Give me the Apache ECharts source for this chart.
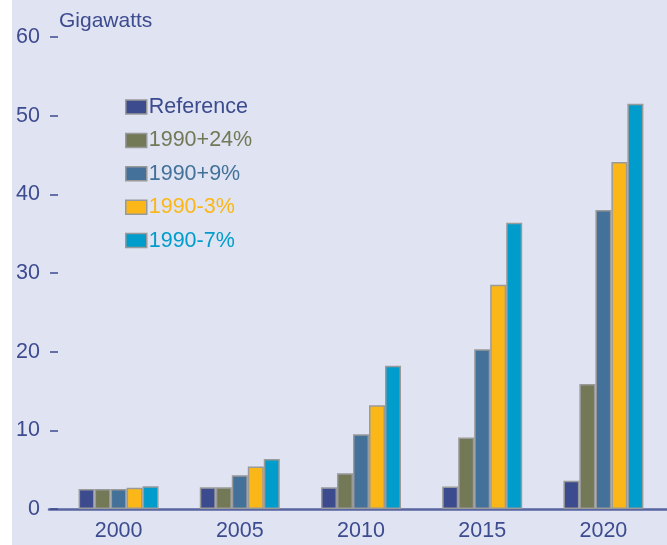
<!DOCTYPE html>
<html>
<head>
<meta charset="utf-8">
<script src="https://cdn.jsdelivr.net/npm/echarts@6/dist/echarts.min.js"></script>
<style>
  html, body { margin: 0; padding: 0; background: #ffffff; }
  #chart { position: absolute; left: 12px; top: 0; width: 655px; height: 545px; }
</style>
</head>
<body>
<div id="chart"></div>
<script>
const categories = ['2000', '2005', '2010', '2015', '2020'];
const seriesNames = ['Reference', '1990+24%', '1990+9%', '1990-3%', '1990-7%'];
const reference = [2.55, 2.75, 2.75, 2.85, 3.6];
const plus24 = [2.55, 2.75, 4.55, 9.1, 15.9];
const plus9 = [2.55, 4.3, 9.5, 20.3, 38.0];
const minus3 = [2.7, 5.4, 13.2, 28.5, 44.1];
const minus7 = [2.9, 6.35, 18.2, 36.4, 51.5];
const colors = ['#3c4a8e', '#737856', '#437199', '#fbb718', '#009ccb'];
const yTicks = [0, 10, 20, 30, 40, 50, 60];

const dataSets = [reference, plus24, plus9, minus3, minus7];
const axisColor = '#3d4b8f';
const font = 'Liberation Sans, Arial, sans-serif';
const fs = 21.5;

const chart = echarts.init(document.getElementById('chart'));
chart.setOption({
  backgroundColor: '#dfe3f2',
  animation: false,
  title: {
    text: 'Gigawatts',
    left: 42, top: 6,
    textStyle: { color: axisColor, fontSize: 21, fontWeight: 'normal', fontFamily: font }
  },
  legend: {
    orient: 'vertical',
    left: 108, top: 91,
    icon: 'rect',
    itemWidth: 21, itemHeight: 14,
    itemGap: 11.4,
    data: seriesNames.map((n, i) => ({
      name: n,
      textStyle: { color: colors[i] }
    })),
    textStyle: { fontSize: fs, fontFamily: font, padding: [0, 0, 0, -3] },
    itemStyle: { borderColor: '#999999', borderWidth: 1.5 }
  },
  grid: [
    { left: 46, right: 3, top: 37, bottom: 36 },
    { left: 37, right: 0, top: 37, bottom: 36 }
  ],
  xAxis: [
    {
      type: 'category', gridIndex: 0, data: categories,
      axisLine: { show: false },
      axisTick: { show: false },
      axisLabel: { color: axisColor, fontSize: fs, fontFamily: font, margin: 11 }
    },
    {
      type: 'value', gridIndex: 1, min: 0, max: 1,
      axisLine: { show: true, lineStyle: { color: '#5a66a0', width: 2.5 } },
      axisTick: { show: false }, axisLabel: { show: false }, splitLine: { show: false }
    }
  ],
  yAxis: [
    {
      type: 'value', gridIndex: 0, min: yTicks[0], max: yTicks[yTicks.length - 1], interval: 10,
      axisLine: { show: false },
      axisTick: { show: true, length: 8, lineStyle: { color: axisColor, width: 1.5 } },
      axisLabel: { color: axisColor, fontSize: fs, fontFamily: font, margin: 18 },
      splitLine: { show: false }
    },
    {
      type: 'value', gridIndex: 1, min: 0, max: 60, show: false
    }
  ],
  series: seriesNames.map((n, i) => ({
    name: n,
    type: 'bar',
    xAxisIndex: 0, yAxisIndex: 0,
    data: dataSets[i],
    barWidth: 16,
    barGap: 0,
    itemStyle: { color: colors[i], borderColor: '#9a9a9a', borderWidth: 1.5 }
  }))
});
</script>
</body>
</html>
